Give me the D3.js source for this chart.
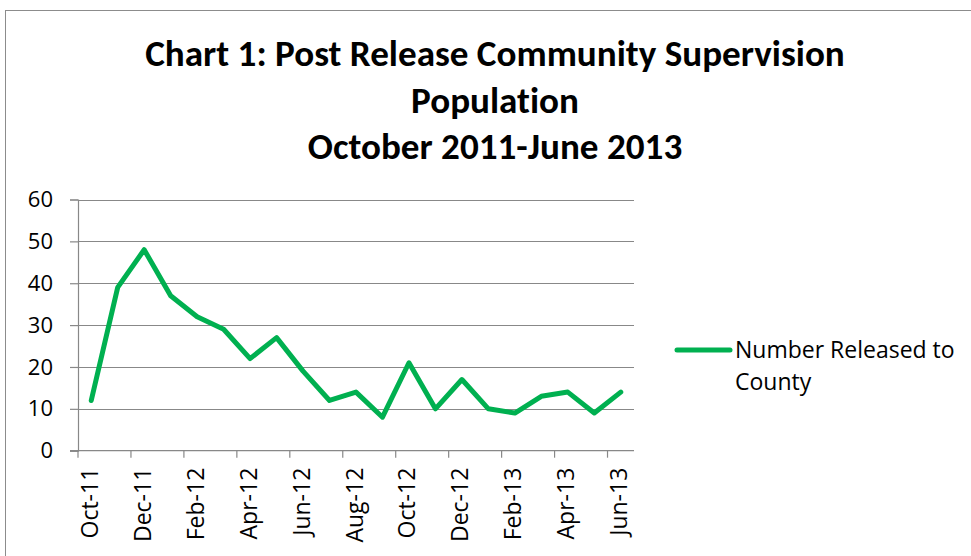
<!DOCTYPE html>
<html>
<head>
<meta charset="utf-8">
<script src="https://cdn.jsdelivr.net/npm/d3@7"></script>
<style>
  html, body { margin: 0; padding: 0; background: #fff; }
  svg { display: block; font-variant-ligatures: none; }
</style>
</head>
<body>
<svg id="chart" width="971" height="556"></svg>
<script>
const months = ["Oct-11","Nov-11","Dec-11","Jan-12","Feb-12","Mar-12","Apr-12","May-12","Jun-12","Jul-12","Aug-12","Sep-12","Oct-12","Nov-12","Dec-12","Jan-13","Feb-13","Mar-13","Apr-13","May-13","Jun-13"];
const released = [12,39,48,37,32,29,22,27,19,12,14,8,21,10,17,10,9,13,14,9,14];
const yTicks = [0,10,20,30,40,50,60];
const titleLines = ["Chart 1: Post Release Community Supervision","Population","October 2011-June 2013"];
const seriesName = ["Number Released to","County"];

const svg = d3.select("#chart");
const font = "'Open Sans', sans-serif";
const titleFont = "Carlito, Lato, 'Open Sans', sans-serif";

// outer border
svg.append("rect").attr("x",5.5).attr("y",10.5).attr("width",980).attr("height",560)
  .attr("fill","none").attr("stroke","#8c8c8c").attr("stroke-width",1);

const m = {left:78, right:634, top:199.5, bottom:450.7};
const x = d3.scaleBand().domain(months).range([m.left, m.right]);
const y = d3.scaleLinear().domain([0,60]).range([m.bottom, m.top]);

// title
const title = svg.append("g").attr("font-family", titleFont).attr("font-weight","bold")
  .attr("font-size", 37).attr("text-anchor","middle").attr("fill","#000");
titleLines.forEach((t,i)=>{
  title.append("text").attr("x",495).attr("y",66 + i*46.5).text(t);
});
const w0 = title.select("text").node().getComputedTextLength();
title.attr("font-size", 37 * 700 / w0);

// gridlines
svg.append("g").selectAll("line").data(yTicks.filter(d=>d>0)).join("line")
  .attr("x1",m.left).attr("x2",m.right)
  .attr("y1",d=>Math.round(y(d))+0.5).attr("y2",d=>Math.round(y(d))+0.5)
  .attr("stroke","#888").attr("stroke-width",1.2);

// y axis
const yAxis = svg.append("g").attr("transform",`translate(${m.left},0)`)
  .call(d3.axisLeft(y).tickValues(yTicks).tickSize(8).tickPadding(17));
yAxis.select(".domain").attr("stroke","#888").attr("stroke-width",1.2);
yAxis.selectAll(".tick line").attr("stroke","#888").attr("stroke-width",1.2);
yAxis.selectAll("text").attr("font-family",font).attr("font-size",22).attr("fill","#000");

// x axis: ticks at category boundaries every 2 categories
const boundaryIdx = d3.range(0, months.length, 2);
const xAxisG = svg.append("g");
xAxisG.append("line").attr("x1",m.left-8).attr("x2",m.right)
  .attr("y1",m.bottom).attr("y2",m.bottom)
  .attr("stroke","#888").attr("stroke-width",1.2);
xAxisG.selectAll("line.tk").data(boundaryIdx).join("line")
  .attr("class","tk")
  .attr("x1",i=>x(months[i])).attr("x2",i=>x(months[i]))
  .attr("y1",m.bottom).attr("y2",m.bottom+7)
  .attr("stroke","#888").attr("stroke-width",1.2);
xAxisG.selectAll("text").data(months.filter((d,i)=>i%2===0)).join("text")
  .attr("transform",d=>`translate(${x(d)+x.bandwidth()/2+6.5},${m.bottom+17}) rotate(-90)`)
  .attr("text-anchor","end")
  .attr("font-family",font).attr("font-size",23).attr("fill","#000")
  .text(d=>d);

// line
const line = d3.line().x((d,i)=>x(months[i])+x.bandwidth()/2).y(d=>y(d));
svg.append("path").datum(released).attr("d",line)
  .attr("fill","none").attr("stroke","#00b050").attr("stroke-width",5)
  .attr("stroke-linejoin","round").attr("stroke-linecap","round");

// legend
svg.append("line").attr("x1",677).attr("x2",730).attr("y1",350).attr("y2",350)
  .attr("stroke","#00b050").attr("stroke-width",5).attr("stroke-linecap","round");
const lg = svg.append("g").attr("font-family",font).attr("font-size",23).attr("fill","#000");
seriesName.forEach((t,i)=>{
  lg.append("text").attr("x",735).attr("y",358 + i*31.5).text(t);
});
</script>
</body>
</html>
